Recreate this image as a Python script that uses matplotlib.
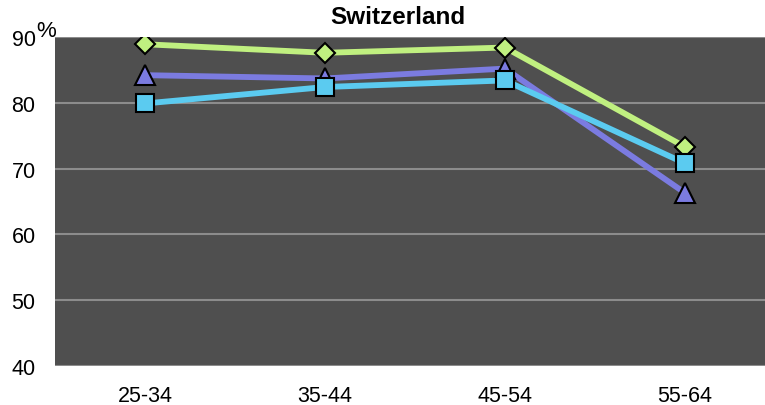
import matplotlib.pyplot as plt
import numpy as np

plt.rcParams['font.family'] = ['Liberation Sans', 'DejaVu Sans']

# age groups and shares (%)
age_groups = ['25-34', '35-44', '45-54', '55-64']
green_vals = [88.9, 87.6, 88.4, 73.3]
purple_vals = [84.2, 83.7, 85.2, 66.3]
cyan_vals = [79.9, 82.4, 83.4, 70.8]
y_ticks = [40, 50, 60, 70, 80, 90]

fig = plt.figure(figsize=(7.65, 4.06), dpi=100)
# plot area runs a bit past the right edge, as in the original
ax = fig.add_axes([55 / 765, 1 - 367 / 406, 720 / 765, 329 / 406])
ax.set_facecolor('#4f4f4f')

x = np.arange(len(age_groups))

ax.plot(x, green_vals, color='#c0f080', lw=4.2, marker='D', ms=10,
        mfc='#c0f080', mec='black', mew=1.5, zorder=3)
ax.plot(x, purple_vals, color='#7b7be0', lw=4.2, marker='^', ms=14,
        mfc='#7b7be0', mec='black', mew=1.5, zorder=3)
ax.plot(x, cyan_vals, color='#5bcbf0', lw=4.2, marker='s', ms=13,
        mfc='#5bcbf0', mec='black', mew=1.5, zorder=4)

ax.set_xlim(-0.5, len(age_groups) - 0.5)
ax.set_ylim(40, 90)
ax.set_xticks(x)
ax.set_xticklabels(age_groups)
ax.set_yticks(y_ticks)
ax.yaxis.grid(True, color='#8c8c8c', lw=1.5)
ax.set_axisbelow(True)
ax.tick_params(length=0, labelsize=15.5)
ax.tick_params(axis='y', pad=14)
ax.tick_params(axis='x', pad=14)
for s in ax.spines.values():
    s.set_visible(False)

fig.text(36 / 765, 1 - 37 / 406, '%', fontsize=16, ha='left', va='baseline')
fig.text(398 / 765, 1 - 18 / 406, 'Switzerland', fontsize=17.5, fontweight='bold',
         ha='center', va='center')

fig.savefig('out.png', dpi=100)
